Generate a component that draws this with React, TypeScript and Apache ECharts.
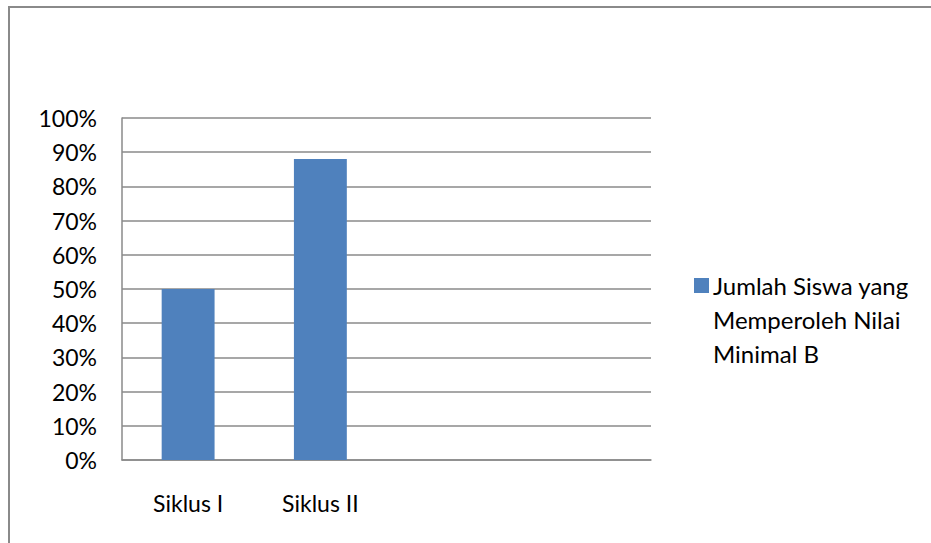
import React, { useEffect, useRef } from "react";
import * as echarts from "echarts";

const categories = ["Siklus I", "Siklus II", "", ""];
const seriesName = "Jumlah Siswa yang Memperoleh Nilai Minimal B";
const legendLines = ["Jumlah Siswa yang", "Memperoleh Nilai", "Minimal B"];
const values = [50, 88, null, null];
const yTicks = { min: 0, max: 100, interval: 10 };

const FONT = "Lato";
const GRAY = "#8a8a8a";
const BAR = "#4F81BD";

export default function App() {
  const ref = useRef<HTMLDivElement>(null);
  useEffect(() => {
    if (!ref.current) return;
    const chart = echarts.init(ref.current, undefined, { renderer: "svg" });
    chart.setOption({
      animation: false,
      backgroundColor: "#ffffff",
      grid: { left: 122, top: 118, width: 529, height: 342 },
      xAxis: {
        type: "category",
        data: categories,
        axisLine: { show: true, lineStyle: { color: GRAY, width: 1.5 } },
        axisTick: { show: false },
        axisLabel: { margin: 31, fontFamily: FONT, fontSize: 23, color: "#000" },
        splitLine: { show: false },
      },
      yAxis: {
        type: "value",
        min: yTicks.min,
        max: yTicks.max,
        interval: yTicks.interval,
        axisLine: { show: true, lineStyle: { color: GRAY, width: 1.5 } },
        axisTick: { show: false },
        axisLabel: {
          formatter: "{value}%",
          margin: 25,
          fontFamily: FONT,
          fontSize: 23,
          color: "#000",
        },
        splitLine: { show: true, lineStyle: { color: GRAY, width: 1.5 } },
      },
      series: [
        {
          name: seriesName,
          type: "bar",
          data: values,
          barWidth: "40%",
          itemStyle: { color: BAR },
        },
      ],
      graphic: [
        {
          type: "line",
          shape: { x1: 8, y1: 7, x2: 931, y2: 7 },
          style: { stroke: GRAY, lineWidth: 2 },
          silent: true,
        },
        {
          type: "line",
          shape: { x1: 9, y1: 6, x2: 9, y2: 543 },
          style: { stroke: GRAY, lineWidth: 2 },
          silent: true,
        },
        {
          type: "rect",
          shape: { x: 694, y: 278, width: 15, height: 15 },
          style: { fill: BAR },
        },
        {
          type: "text",
          x: 713,
          y: 268,
          style: {
            text: legendLines.join("\n"),
            fontFamily: FONT,
            fontSize: 24,
            lineHeight: 34,
            fill: "#000",
            verticalAlign: "top",
          },
        },
      ],
    });
    return () => chart.dispose();
  }, []);
  return (
    <div
      ref={ref}
      style={{ position: "fixed", left: 0, top: 0, width: 931, height: 543 }}
    />
  );
}
